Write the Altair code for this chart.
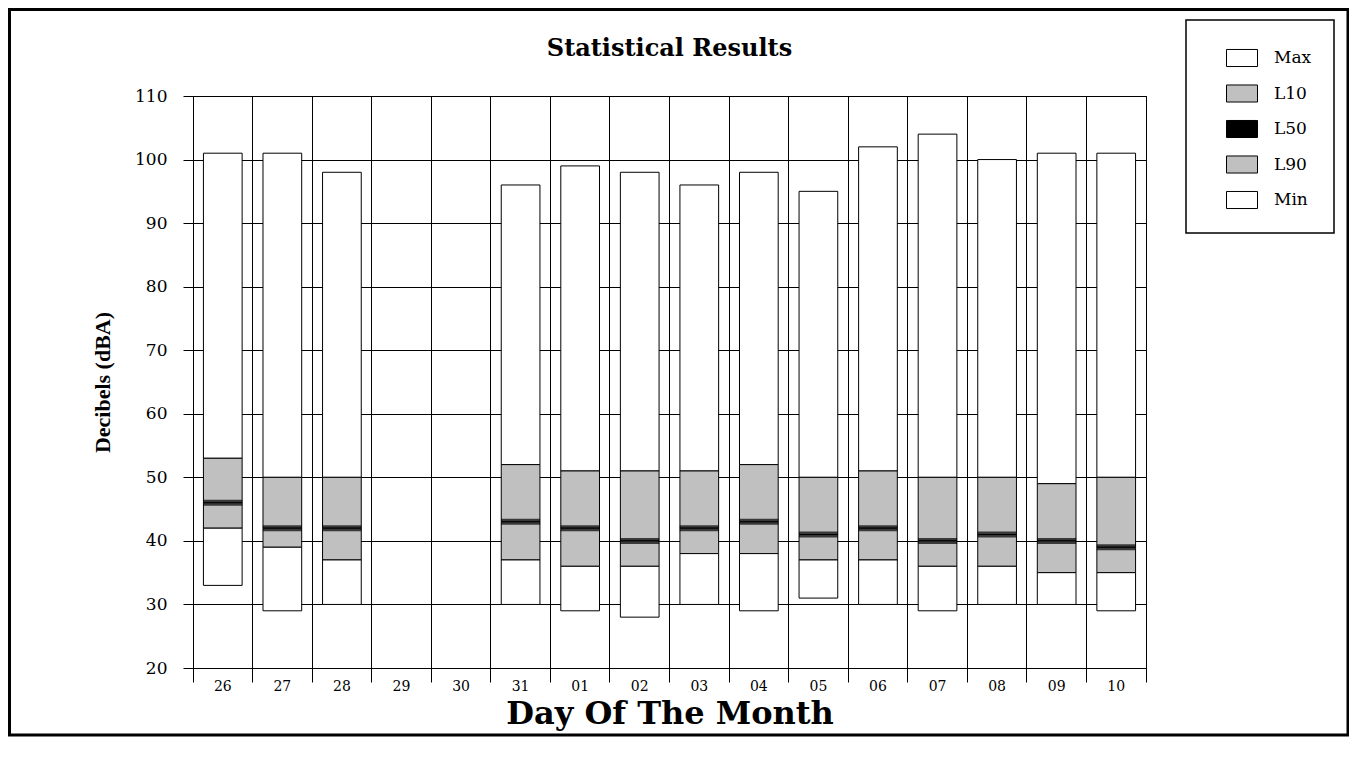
import altair as alt
import pandas as pd

days = ["26", "27", "28", "29", "30", "31", "01", "02", "03", "04", "05", "06", "07", "08", "09", "10"]
max_vals = [101, 101, 98, None, None, 96, 99, 98, 96, 98, 95, 102, 104, 100, 101, 101]
l10_vals = [53, 50, 50, None, None, 52, 51, 51, 51, 52, 50, 51, 50, 50, 49, 50]
l50_vals = [46, 42, 42, None, None, 43, 42, 40, 42, 43, 41, 42, 40, 41, 40, 39]
l90_vals = [42, 39, 37, None, None, 37, 36, 36, 38, 38, 37, 37, 36, 36, 35, 35]
min_vals = [33, 29, 30, None, None, 30, 29, 28, 30, 29, 31, 30, 29, 30, 30, 29]

series = ["Max", "L10", "L50", "L90", "Min"]
series_colors = ["#ffffff", "#c0c0c0", "#000000", "#c0c0c0", "#ffffff"]

seg_rows = []
l50_rows = []
for i, d in enumerate(days):
    if max_vals[i] is None:
        continue
    seg_rows.append({"day": d, "series": "Max", "lo": l10_vals[i], "hi": max_vals[i]})
    seg_rows.append({"day": d, "series": "L10", "lo": l50_vals[i], "hi": l10_vals[i]})
    seg_rows.append({"day": d, "series": "L90", "lo": l90_vals[i], "hi": l50_vals[i]})
    seg_rows.append({"day": d, "series": "Min", "lo": min_vals[i], "hi": l90_vals[i]})
    l50_rows.append({"day": d, "series": "L50", "value": l50_vals[i]})

seg_df = pd.DataFrame(seg_rows)
l50_df = pd.DataFrame(l50_rows)

x_enc = alt.X(
    "day:O",
    sort=days,
    scale=alt.Scale(domain=days, paddingInner=0, paddingOuter=0),
    axis=alt.Axis(
        title="Day Of The Month",
        labelAngle=0,
        bandPosition=1,
        tickExtra=True,
        grid=True,
        tickSize=14,
        labelPadding=-3,
        labelFont="DejaVu Serif",
        labelFontSize=14,
        titleFont="DejaVu Serif",
        titleFontSize=32,
        titleFontWeight="bold",
        titlePadding=5,
    ),
)

y_scale = alt.Scale(domain=[20, 110], nice=False, zero=False)
y_axis = alt.Axis(
    title="Decibels (dBA)",
    values=list(range(20, 111, 10)),
    grid=True,
    tickSize=10,
    labelPadding=16,
    labelFont="DejaVu Serif",
    labelFontSize=17,
    titleFont="Liberation Serif",
    titleFontSize=22,
    titleFontWeight="bold",
    titlePadding=20,
)

bars = alt.Chart(seg_df).mark_bar(
    width=alt.RelativeBandSize(0.65), stroke="#000000", strokeWidth=1
).encode(
    x=x_enc,
    y=alt.Y("lo:Q", scale=y_scale, axis=y_axis),
    y2="hi:Q",
    fill=alt.Fill(
        "series:N",
        scale=alt.Scale(domain=series, range=series_colors),
        legend=alt.Legend(
            title=None,
            orient="none",
            legendX=993,
            legendY=-76,
            symbolType="M-1,-0.55H1V0.55H-1Z",
            symbolSize=961,
            symbolStrokeColor="#000000",
            symbolStrokeWidth=1,
            symbolOffset=18,
            labelOffset=16,
            labelFont="DejaVu Serif",
            labelFontSize=17,
            labelColor="#000000",
            rowPadding=8.5,
            padding=22,
            strokeColor="#000000",
            fillColor="#ffffff",
        ),
    ),
)

l50 = alt.Chart(l50_df).mark_tick(thickness=6, size=39, color="#000000").encode(
    x=alt.X("day:O", sort=days),
    y=alt.Y("value:Q"),
)

border = alt.Chart(pd.DataFrame({"k": [0]})).mark_rect(
    fill="#ffffff", fillOpacity=0, stroke="#000000", strokeWidth=3
).encode(
    x=alt.value(-183.5),
    x2=alt.value(1155),
    y=alt.value(-86.5),
    y2=alt.value(639),
)

chart = alt.layer(border, bars, l50).properties(
    width=953,
    height=572,
    autosize=alt.AutoSizeParams(type="none"),
    padding={"left": 185, "top": 88, "right": 203, "bottom": 70},
    title=alt.TitleParams(
        "Statistical Results",
        font="DejaVu Serif",
        fontSize=24,
        fontWeight="bold",
        anchor="middle",
        offset=-53,
        color="#000000",
    ),
).configure_view(
    stroke="#000000", strokeWidth=1
).configure_axis(
    domainColor="#000000",
    tickColor="#000000",
    gridColor="#000000",
    gridOpacity=1,
    gridWidth=1,
    labelColor="#000000",
    titleColor="#000000",
).configure_legend(
    strokeWidth=1.5
)

chart.save("out.html", embed_options={"renderer": "svg", "actions": False})
